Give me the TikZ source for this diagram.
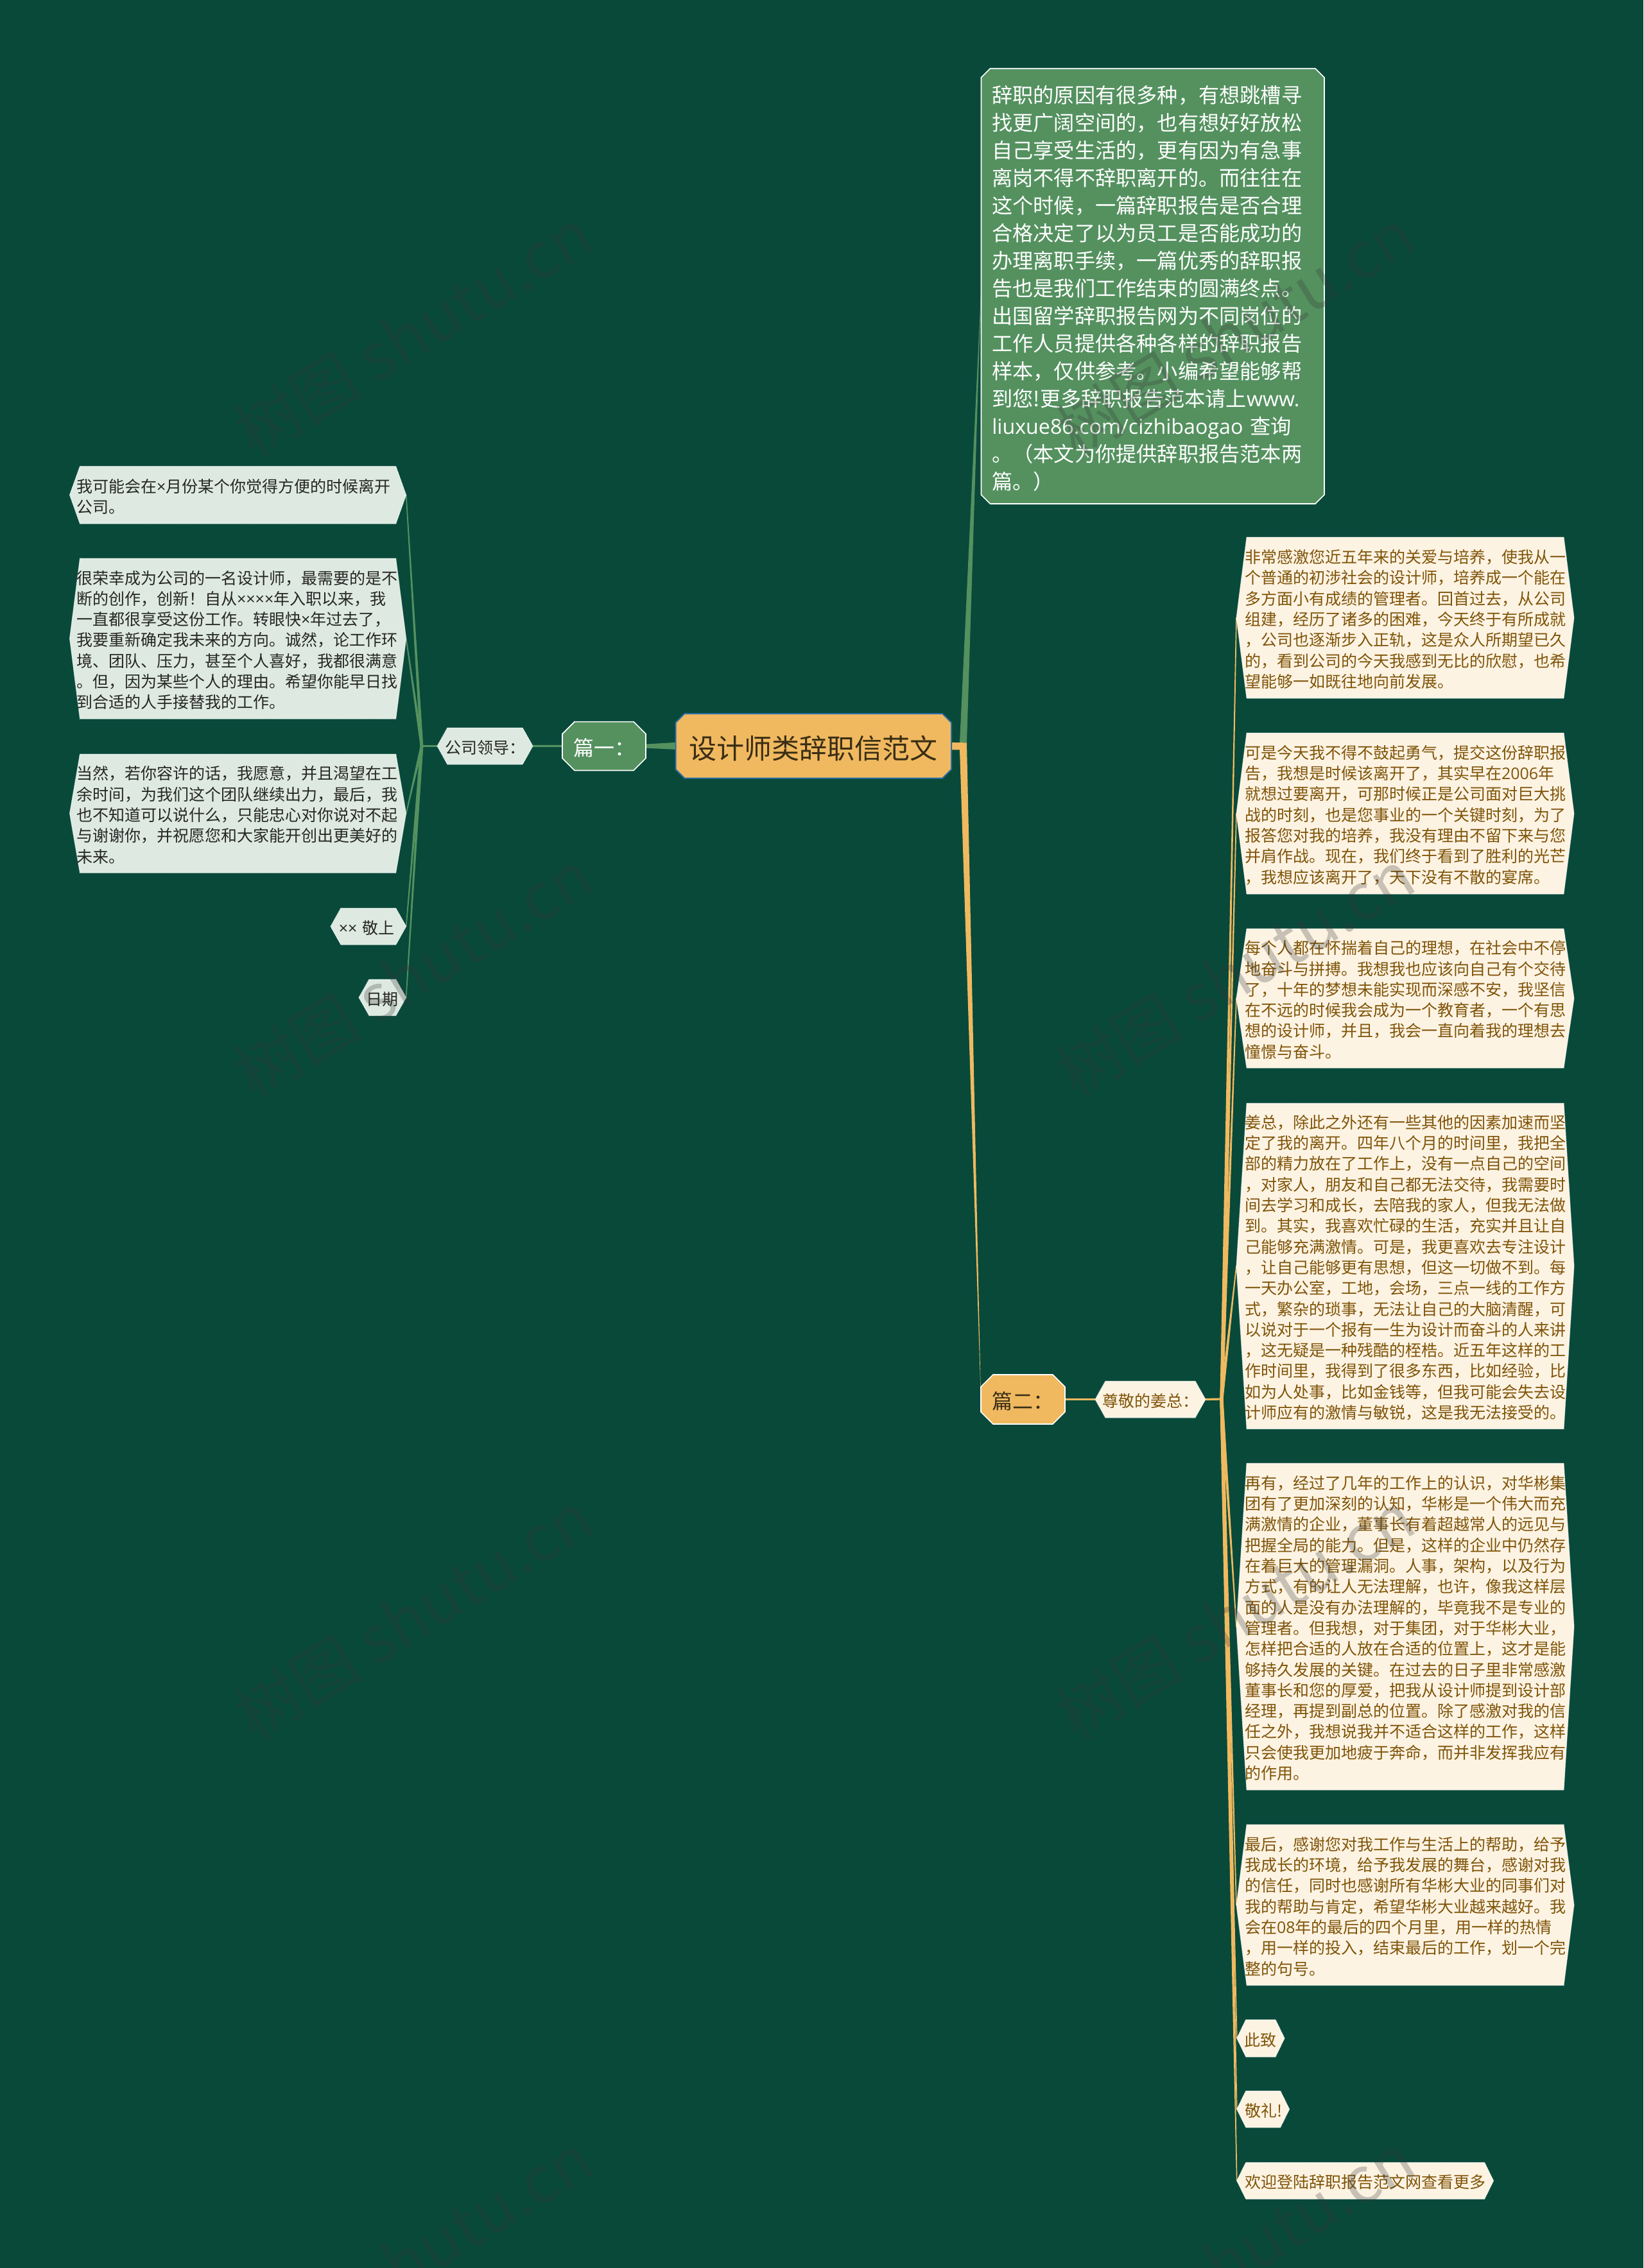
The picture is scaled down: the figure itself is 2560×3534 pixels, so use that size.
\documentclass[tikz,border=0pt]{standalone}
\usepackage{fontspec}
\setmainfont{Noto Sans CJK SC}
\newfontfamily\lat{Open Sans}
\usetikzlibrary{calc}
\pgfdeclarelayer{conn}
\pgfdeclarelayer{shape}
\pgfsetlayers{conn,shape,main}
\definecolor{bgc}{HTML}{08493A}
\definecolor{gr}{HTML}{54915F}
\definecolor{grpale}{HTML}{DEEAE1}
\definecolor{org}{HTML}{F0B960}
\definecolor{cream}{HTML}{FDF3E3}
\definecolor{brn}{HTML}{7F5408}
\definecolor{dk}{HTML}{262626}
\definecolor{rootline}{HTML}{2F6EA5}
\definecolor{rootink}{HTML}{3A2E14}
\definecolor{wm}{HTML}{383838}
\tikzset{
  x=1pt,y=-1pt,
  box/.style={inner sep=0pt,outer sep=0pt,rectangle,align=left},
  body/.style={box,font=\fontsize{25}{32.3}\selectfont},
  lnode/.style={body,text=dk},
  rnode/.style={body,text=brn},
  lshape/.style={fill=grpale,draw=white,line width=1pt,densely dotted},
  rshape/.style={fill=cream,draw=white,line width=1pt,densely dotted},
  gshape/.style={fill=gr,draw=white,line width=1.6pt},
  oshape/.style={fill=org,draw=white,line width=1.6pt},
  rootshape/.style={fill=org,draw=rootline,line width=2pt},
  wmark/.style={text=wm,text opacity=.27,rotate=31.5,font=\fontsize{100}{100}\selectfont,inner sep=0pt},
}
\newcommand\tms{{\lat ×}}
% name, x1, x2, y1, y2, text width, node style, text
\newcommand\boxnode[8]{%
  \node[#7,minimum width={(#3-#2)*1pt},minimum height={(#5-#4)*1pt},text width=#6pt]
    (#1) at ({(#2+#3)/2},{(#4+#5)/2}) {\rule{0pt}{1.04em}#8};}
% hexagon outline round a node: name, inset, style
\newcommand\hexshape[3]{%
  \begin{pgfonlayer}{shape}
  \draw[#3] (#1.west) -- ($(#1.north west)+(#2,0)$) -- ($(#1.north east)+(-#2,0)$) -- (#1.east)
    -- ($(#1.south east)+(-#2,0)$) -- ($(#1.south west)+(#2,0)$) -- cycle;
  \end{pgfonlayer}}
% octagon outline round a node: name, chamfer, style
\newcommand\octshape[3]{%
  \begin{pgfonlayer}{shape}
  \draw[#3] ($(#1.north west)+(#2,0)$) -- ($(#1.north east)+(-#2,0)$) -- ($(#1.north east)+(0,#2)$)
    -- ($(#1.south east)+(0,-#2)$) -- ($(#1.south east)+(-#2,0)$) -- ($(#1.south west)+(#2,0)$)
    -- ($(#1.south west)+(0,-#2)$) -- ($(#1.north west)+(0,#2)$) -- cycle;
  \end{pgfonlayer}}
% tapered connector: colour, from, half width, to, half width
\newcommand\taper[5]{%
  \begin{pgfonlayer}{conn}
  \fill[#1] ($(#2)!#3pt!90:(#4)$) -- ($(#4)!#5pt!-90:(#2)$) -- ($(#4)!#5pt!90:(#2)$) -- ($(#2)!#3pt!-90:(#4)$) -- cycle;
  \end{pgfonlayer}}
\begin{document}
\begin{tikzpicture}
\begin{pgfonlayer}{conn}
\fill[bgc] (0,0) rectangle (2560,3534);
\end{pgfonlayer}
\useasboundingbox (0,0) rectangle (2560,3534);

% centre and branches
\boxnode{root}{1052.5}{1482}{1112}{1212.7}{387}{box,font=\fontsize{43}{50}\selectfont,text=rootink}{设计师类辞职信范文}
\octshape{root}{14}{rootshape}
\boxnode{pa}{876}{1006}{1124.6}{1200.5}{96}{box,font=\fontsize{32}{40}\selectfont,text=white}{篇一：}
\octshape{pa}{19}{gshape}
\boxnode{pb}{1528}{1659}{2142}{2219}{96}{box,font=\fontsize{32}{40}\selectfont,text=rootink}{篇二：}
\octshape{pb}{19}{oshape}
\boxnode{intro}{1528.5}{2063}{106.7}{785}{501}{box,font=\fontsize{32.2}{43}\selectfont,text=white}{辞职的原因有很多种，有想跳槽寻\\找更广阔空间的，也有想好好放松\\自己享受生活的，更有因为有急事\\离岗不得不辞职离开的。而往往在\\这个时候，一篇辞职报告是否合理\\合格决定了以为员工是否能成功的\\办理离职手续，一篇优秀的辞职报\\告也是我们工作结束的圆满终点。\\出国留学辞职报告网为不同岗位的\\工作人员提供各种各样的辞职报告\\样本，仅供参考。小编希望能够帮\\到您!更多辞职报告范本请上{\lat www.}\\{\lat liuxue86.com/cizhibaogao} 查询\\。（本文为你提供辞职报告范本两\\篇。）}
\octshape{intro}{14}{gshape}

% left branch
\boxnode{lead}{681}{830}{1134}{1191}{125}{lnode}{公司领导：}
\hexshape{lead}{16}{lshape}
\boxnode{la}{108.5}{632.7}{726.5}{816}{503}{lnode}{我可能会在\tms 月份某个你觉得方便的时候离开\\公司。}
\hexshape{la}{16}{lshape}
\boxnode{lb}{108.5}{632.7}{870}{1120}{503}{lnode}{很荣幸成为公司的一名设计师，最需要的是不\\断的创作，创新！自从\tms\tms\tms\tms 年入职以来，我\\一直都很享受这份工作。转眼快\tms 年过去了，\\我要重新确定我未来的方向。诚然，论工作环\\境、团队、压力，甚至个人喜好，我都很满意\\。但，因为某些个人的理由。希望你能早日找\\到合适的人手接替我的工作。}
\hexshape{lb}{16}{lshape}
\boxnode{lc}{108.5}{632.7}{1175}{1360}{503}{lnode}{当然，若你容许的话，我愿意，并且渴望在工\\余时间，为我们这个团队继续出力，最后，我\\也不知道可以说什么，只能忠心对你说对不起\\与谢谢你，并祝愿您和大家能开创出更美好的\\未来。}
\hexshape{lc}{16}{lshape}
\boxnode{ld}{515}{632.7}{1415}{1472}{92}{lnode}{\tms\tms\ 敬上}
\hexshape{ld}{16}{lshape}
\boxnode{le}{559}{632.7}{1526}{1582.6}{50}{lnode}{日期}
\hexshape{le}{16}{lshape}

% right branch
\boxnode{dear}{1706}{1878}{2152}{2209}{150}{rnode}{尊敬的姜总：}
\hexshape{dear}{16}{rshape}
\boxnode{ra}{1926}{2452}{837}{1088}{500}{rnode}{非常感激您近五年来的关爱与培养，使我从一\\个普通的初涉社会的设计师，培养成一个能在\\多方面小有成绩的管理者。回首过去，从公司\\组建，经历了诸多的困难，今天终于有所成就\\，公司也逐渐步入正轨，这是众人所期望已久\\的，看到公司的今天我感到无比的欣慰，也希\\望能够一如既往地向前发展。}
\hexshape{ra}{16}{rshape}
\boxnode{rb}{1926}{2452}{1142}{1393}{500}{rnode}{可是今天我不得不鼓起勇气，提交这份辞职报\\告，我想是时候该离开了，其实早在{\lat 2006}年\\就想过要离开，可那时候正是公司面对巨大挑\\战的时刻，也是您事业的一个关键时刻，为了\\报答您对我的培养，我没有理由不留下来与您\\并肩作战。现在，我们终于看到了胜利的光芒\\，我想应该离开了，天下没有不散的宴席。}
\hexshape{rb}{16}{rshape}
\boxnode{rc}{1926}{2452}{1447}{1664}{500}{rnode}{每个人都在怀揣着自己的理想，在社会中不停\\地奋斗与拼搏。我想我也应该向自己有个交待\\了，十年的梦想未能实现而深感不安，我坚信\\在不远的时候我会成为一个教育者，一个有思\\想的设计师，并且，我会一直向着我的理想去\\憧憬与奋斗。}
\hexshape{rc}{16}{rshape}
\boxnode{rd}{1926}{2452}{1719}{2226.5}{500}{rnode}{姜总，除此之外还有一些其他的因素加速而坚\\定了我的离开。四年八个月的时间里，我把全\\部的精力放在了工作上，没有一点自己的空间\\，对家人，朋友和自己都无法交待，我需要时\\间去学习和成长，去陪我的家人，但我无法做\\到。其实，我喜欢忙碌的生活，充实并且让自\\己能够充满激情。可是，我更喜欢去专注设计\\，让自己能够更有思想，但这一切做不到。每\\一天办公室，工地，会场，三点一线的工作方\\式，繁杂的琐事，无法让自己的大脑清醒，可\\以说对于一个报有一生为设计而奋斗的人来讲\\，这无疑是一种残酷的桎梏。近五年这样的工\\作时间里，我得到了很多东西，比如经验，比\\如为人处事，比如金钱等，但我可能会失去设\\计师应有的激情与敏锐，这是我无法接受的。}
\hexshape{rd}{16}{rshape}
\boxnode{re}{1926}{2452}{2280}{2789}{500}{rnode}{再有，经过了几年的工作上的认识，对华彬集\\团有了更加深刻的认知，华彬是一个伟大而充\\满激情的企业，董事长有着超越常人的远见与\\把握全局的能力。但是，这样的企业中仍然存\\在着巨大的管理漏洞。人事，架构，以及行为\\方式，有的让人无法理解，也许，像我这样层\\面的人是没有办法理解的，毕竟我不是专业的\\管理者。但我想，对于集团，对于华彬大业，\\怎样把合适的人放在合适的位置上，这才是能\\够持久发展的关键。在过去的日子里非常感激\\董事长和您的厚爱，把我从设计师提到设计部\\经理，再提到副总的位置。除了感激对我的信\\任之外，我想说我并不适合这样的工作，这样\\只会使我更加地疲于奔命，而并非发挥我应有\\的作用。}
\hexshape{re}{16}{rshape}
\boxnode{rf}{1926}{2452}{2843}{3093.6}{500}{rnode}{最后，感谢您对我工作与生活上的帮助，给予\\我成长的环境，给予我发展的舞台，感谢对我\\的信任，同时也感谢所有华彬大业的同事们对\\我的帮助与肯定，希望华彬大业越来越好。我\\会在{\lat 08}年的最后的四个月里，用一样的热情\\，用一样的投入，结束最后的工作，划一个完\\整的句号。}
\hexshape{rf}{16}{rshape}
\boxnode{rg}{1926.7}{2001}{3147}{3205}{50}{rnode}{此致}
\hexshape{rg}{14}{rshape}
\boxnode{rh}{1926.7}{2008.6}{3258}{3315}{57}{rnode}{敬礼!}
\hexshape{rh}{14}{rshape}
\boxnode{ri}{1926.7}{2326.6}{3369.5}{3426.5}{375}{rnode}{欢迎登陆辞职报告范文网查看更多}
\hexshape{ri}{14}{rshape}

% connectors
\coordinate (lj) at (657,1162.5);
\coordinate (rj) at (1903,2180);
\taper{gr}{root.west}{5.5}{pa.east}{3}
\taper{gr}{pa.west}{1.6}{lead.east}{1.6}
\taper{gr}{lead.west}{1.6}{lj}{1.6}
\foreach \c in {la,lb,lc,ld,le}{\taper{gr}{lj}{2.4}{\c.east}{0.8}}
\taper{org}{pb.east}{1.6}{dear.west}{1.6}
\taper{org}{dear.east}{1.6}{rj}{1.6}
\foreach \c in {ra,rb,rc,rd,re,rf,rg,rh,ri}{\taper{org}{rj}{2.6}{\c.west}{0.8}}
\begin{pgfonlayer}{conn}
\coordinate (ga) at ($(root.east)+(13,-5)$);
\coordinate (gb) at ($(root.east)+(24,-5)$);
\fill[gr] (ga) -- (gb) -- ($(intro.west)+(0,1)$) -- ($(intro.west)+(0,-1)$) -- cycle;
\fill[org] ($(root.east)+(0,-5.5)$) -- (gb) -- ($(pb.west)+(0,-1)$) -- ($(pb.west)+(0,1)$) -- ($(root.east)+(13,6)$) -- ($(root.east)+(0,6)$) -- cycle;
\end{pgfonlayer}

% watermark
\begin{scope}
\clip (0,0) rectangle (2560,3534);
\foreach \n/\px/\py in {wa/644/518,wb/1924/518,wc/644/1517,wd/1924/1517,we/644/2517,wf/1924/2517,wg/644/3517,wh/1924/3517}{
  \node[wmark] (\n) at (\px,\py) {树图 shutu.cn};
}
\end{scope}
\end{tikzpicture}
\end{document}
